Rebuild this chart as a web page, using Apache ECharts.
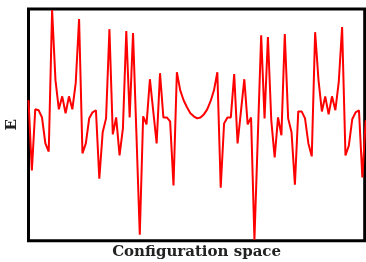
<!DOCTYPE html>
<html>
<head>
<meta charset="utf-8">
<script src="https://cdn.jsdelivr.net/npm/echarts@6/dist/echarts.min.js"></script>
<style>
  html, body { margin: 0; padding: 0; background: #fff; }
  #chart { width: 366px; height: 262px; }
</style>
</head>
<body>
<div id="chart"></div>
<script>
// energy, one value per configuration step (0..100)
const energy = [
  60.6, 30.3, 56.7, 56.3, 53.2, 42.0, 38.5, 99.6, 69.3, 56.7,
  62.3, 55.0, 62.3, 56.7, 68.0, 95.7, 37.7, 42.0, 52.8, 55.4,
  56.3, 26.8, 46.8, 52.8, 91.3, 45.9, 53.2, 36.8, 48.5, 90.5,
  53.2, 89.6, 46.3, 2.6, 53.7, 50.2, 69.7, 55.8, 42.0, 72.3,
  53.2, 53.2, 51.5, 23.8, 72.7, 64.9, 60.6, 57.6, 55.0, 53.7,
  52.8, 53.2, 54.5, 56.7, 60.2, 64.9, 72.7, 22.9, 50.6, 53.2,
  53.2, 71.9, 42.0, 55.8, 69.7, 50.2, 53.2, 0.4, 44.6, 88.7,
  52.8, 87.9, 51.9, 35.9, 53.2, 45.5, 89.2, 52.8, 46.8, 24.2,
  55.8, 55.8, 52.8, 42.0, 36.4, 90.0, 69.3, 55.8, 62.3, 54.5,
  62.3, 56.3, 68.4, 92.2, 36.8, 41.1, 52.4, 55.4, 56.3, 27.3,
  52.0
];
const xLabel = 'Configuration space';
const yLabel = 'E';

let chart = echarts.init(document.getElementById('chart'));
let labelFont = {
    fontFamily: 'DejaVu Serif',
    fontWeight: 'bold',
    fontSize: 15,
    color: '#222'
};

let option = {
    animation: false,
    grid: {
        left: 28.5,
        right: 1.3,
        top: 9,
        bottom: 21.3,
        outerBoundsMode: 'none',
        containLabel: false,
        show: true,
        borderColor: '#000',
        borderWidth: 3,
        backgroundColor: '#fff'
    },
    xAxis: {
        type: 'value',
        min: 0,
        max: 99.7,
        name: xLabel,
        nameLocation: 'middle',
        nameGap: 4,
        nameTextStyle: labelFont,
        axisLine: { show: false },
        axisTick: { show: false },
        axisLabel: { show: false },
        splitLine: { show: false }
    },
    yAxis: {
        type: 'value',
        min: 0,
        max: 100,
        name: yLabel,
        nameLocation: 'middle',
        nameGap: 9,
        nameTextStyle: labelFont,
        axisLine: { show: false },
        axisTick: { show: false },
        axisLabel: { show: false },
        splitLine: { show: false }
    },
    series: [
        {
            type: 'line',
            data: energy.map((v, i) => [i, v]),
            showSymbol: false,
            clip: true,
            lineStyle: { color: '#ff0000', width: 2 }
        }
    ]
};

chart.setOption(option);
</script>
</body>
</html>
